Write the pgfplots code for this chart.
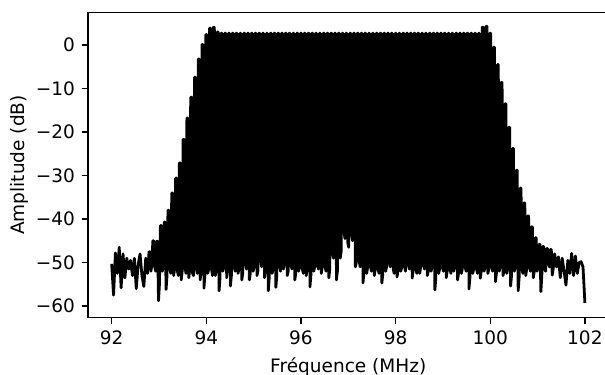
\documentclass[border=0pt]{standalone}
\usepackage{fontspec}
\setmainfont{DejaVu Sans}
\usepackage{pgfplots}
\pgfplotsset{compat=1.18}
\begin{document}
\begin{tikzpicture}
\begin{axis}[
  width=281.1pt, height=164.7pt, scale only axis,
  xmin=91.5, xmax=102.5, ymin=-62.64, ymax=7.47,
  xtick={92,94,96,98,100,102},
  xticklabels={92,94,96,98,100,102},
  ytick={-60,-50,-40,-30,-20,-10,0},
  yticklabels={−60,−50,−40,−30,−20,−10,0},
  tick pos=left, tick align=outside,
  major tick length=3.5pt,
  every tick/.style={black, line width=0.8pt},
  axis line style={black, line width=0.8pt},
  xlabel={Fréquence (MHz)},
  ylabel={Amplitude (dB)},
  ylabel shift=-3pt,
]
\addplot[black, line width=1.5pt, line join=round, mark=none] coordinates {
(92.00,-50.3) (92.04,-57.5) (92.08,-47.8) (92.12,-52.5) (92.16,-46.5) (92.20,-55.8) (92.24,-48.0) (92.28,-53.5)
(92.32,-49.0) (92.36,-51.5) (92.40,-49.5) (92.44,-53.0) (92.48,-49.0) (92.52,-56.0) (92.56,-50.5) (92.60,-48.0)
(92.64,-53.0) (92.68,-55.5) (92.72,-49.0) (92.76,-52.5)
(92.79,-47.5) (92.81,-47.5) (92.83,-52.0) (92.85,-50.5)
(92.87,-45.0) (92.89,-45.0) (92.91,-51.0) (92.93,-52.0)
(92.95,-45.1) (92.97,-45.1) (92.99,-58.8) (93.01,-55.0)
(93.03,-41.5) (93.05,-41.5) (93.07,-52.0) (93.09,-51.0)
(93.11,-40.7) (93.13,-40.7) (93.15,-56.2) (93.17,-53.0)
(93.19,-38.0) (93.21,-38.0) (93.23,-51.5) (93.25,-52.5)
(93.27,-34.0) (93.29,-34.0) (93.31,-53.0) (93.33,-51.5)
(93.35,-30.6) (93.37,-30.6) (93.39,-52.0) (93.41,-53.0)
(93.43,-27.1) (93.45,-27.1) (93.47,-54.0) (93.49,-52.0)
(93.51,-21.7) (93.53,-21.7) (93.55,-51.0) (93.57,-52.5)
(93.59,-16.8) (93.61,-16.8) (93.63,-53.5) (93.65,-51.5)
(93.67,-12.0) (93.69,-12.0) (93.71,-52.5) (93.73,-53.0)
(93.75,-7.4) (93.77,-7.4) (93.79,-51.5) (93.81,-52.5)
(93.83,-3.2) (93.85,-3.2) (93.87,-54.0) (93.89,-52.0)
(93.91,0.1) (93.93,0.1) (93.95,-55.9) (93.97,-53.0)
(93.99,2.4) (94.01,2.4) (94.03,-52.5) (94.05,-51.5)
(94.07,3.9) (94.09,3.9) (94.11,-51.5) (94.13,-53.0)
(94.15,4.1) (94.17,4.1) (94.19,-53.0) (94.21,-52.0)
(94.23,3.0) (94.25,3.0) (94.27,-56.5) (94.29,-53.5)
(94.31,2.7) (94.33,2.7) (94.35,-52.0) (94.37,-51.0)
(94.39,2.7) (94.41,2.7) (94.43,-53.5) (94.45,-52.0)
(94.47,2.7) (94.49,2.7) (94.51,-55.4) (94.53,-53.0)
(94.55,2.7) (94.57,2.7) (94.59,-51.0) (94.61,-52.0)
(94.63,2.7) (94.65,2.7) (94.67,-52.5) (94.69,-51.5)
(94.71,2.7) (94.73,2.7) (94.75,-54.0) (94.77,-52.5)
(94.79,2.7) (94.81,2.7) (94.83,-50.5) (94.85,-51.5)
(94.87,2.7) (94.89,2.7) (94.91,-54.0) (94.93,-52.5)
(94.95,2.7) (94.97,2.7) (94.99,-52.0) (95.01,-51.0)
(95.03,2.7) (95.05,2.7) (95.07,-53.0) (95.09,-52.0)
(95.11,2.7) (95.13,2.7) (95.15,-49.4) (95.17,-51.0)
(95.19,2.7) (95.21,2.7) (95.23,-53.5) (95.25,-52.0)
(95.27,2.7) (95.29,2.7) (95.31,-56.5) (95.33,-53.5)
(95.35,2.7) (95.37,2.7) (95.39,-52.5) (95.41,-51.5)
(95.43,2.7) (95.45,2.7) (95.47,-55.7) (95.49,-53.0)
(95.51,2.7) (95.53,2.7) (95.55,-51.0) (95.57,-52.0)
(95.59,2.7) (95.61,2.7) (95.63,-51.5) (95.65,-50.5)
(95.67,2.7) (95.69,2.7) (95.71,-53.0) (95.73,-52.0)
(95.75,2.7) (95.77,2.7) (95.79,-50.5) (95.81,-51.5)
(95.83,2.7) (95.85,2.7) (95.87,-54.0) (95.89,-52.5)
(95.91,2.7) (95.93,2.7) (95.95,-52.0) (95.97,-51.0)
(95.99,2.7) (96.01,2.7) (96.03,-51.5) (96.05,-52.5)
(96.07,2.7) (96.09,2.7) (96.11,-53.0) (96.13,-51.5)
(96.15,2.7) (96.17,2.7) (96.19,-55.6) (96.21,-53.0)
(96.23,2.7) (96.25,2.7) (96.27,-52.0) (96.29,-51.0)
(96.31,2.7) (96.33,2.7) (96.35,-50.6) (96.37,-51.5)
(96.39,2.7) (96.41,2.7) (96.43,-52.5) (96.45,-51.0)
(96.47,2.7) (96.49,2.7) (96.51,-51.0) (96.53,-52.0)
(96.55,2.7) (96.57,2.7) (96.59,-53.5) (96.61,-51.5)
(96.63,2.7) (96.65,2.7) (96.67,-47.8) (96.69,-49.0)
(96.71,2.7) (96.73,2.7) (96.75,-54.0) (96.77,-52.0)
(96.79,2.7) (96.81,2.7) (96.83,-49.0) (96.85,-47.5)
(96.87,2.7) (96.89,2.7) (96.91,-43.0) (96.93,-44.5)
(96.95,2.7) (96.97,2.7) (96.99,-45.5) (97.01,-46.5)
(97.03,2.7) (97.05,2.7) (97.07,-43.5) (97.09,-45.0)
(97.11,2.7) (97.13,2.7) (97.15,-51.0) (97.17,-50.0)
(97.19,2.7) (97.21,2.7) (97.23,-49.5) (97.25,-51.0)
(97.27,2.7) (97.29,2.7) (97.31,-54.7) (97.33,-52.5)
(97.35,2.7) (97.37,2.7) (97.39,-52.5) (97.41,-51.0)
(97.43,2.7) (97.45,2.7) (97.47,-51.0) (97.49,-52.0)
(97.51,2.7) (97.53,2.7) (97.55,-53.0) (97.57,-51.5)
(97.59,2.7) (97.61,2.7) (97.63,-51.5) (97.65,-52.5)
(97.67,2.7) (97.69,2.7) (97.71,-54.7) (97.73,-52.5)
(97.75,2.7) (97.77,2.7) (97.79,-52.0) (97.81,-51.0)
(97.83,2.7) (97.85,2.7) (97.87,-50.0) (97.89,-51.0)
(97.91,2.7) (97.93,2.7) (97.95,-51.5) (97.97,-52.5)
(97.99,2.7) (98.01,2.7) (98.03,-53.3) (98.05,-52.0)
(98.07,2.7) (98.09,2.7) (98.11,-52.0) (98.13,-51.0)
(98.15,2.7) (98.17,2.7) (98.19,-51.0) (98.21,-52.0)
(98.23,2.7) (98.25,2.7) (98.27,-50.6) (98.29,-51.5)
(98.31,2.7) (98.33,2.7) (98.35,-53.6) (98.37,-52.0)
(98.39,2.7) (98.41,2.7) (98.43,-51.5) (98.45,-52.5)
(98.47,2.7) (98.49,2.7) (98.51,-52.5) (98.53,-51.0)
(98.55,2.7) (98.57,2.7) (98.59,-50.5) (98.61,-51.5)
(98.63,2.7) (98.65,2.7) (98.67,-53.0) (98.69,-52.0)
(98.71,2.7) (98.73,2.7) (98.75,-52.0) (98.77,-51.0)
(98.79,2.7) (98.81,2.7) (98.83,-56.3) (98.85,-53.5)
(98.87,2.7) (98.89,2.7) (98.91,-52.5) (98.93,-51.5)
(98.95,2.7) (98.97,2.7) (98.99,-51.0) (99.01,-52.0)
(99.03,2.7) (99.05,2.7) (99.07,-53.5) (99.09,-52.0)
(99.11,2.7) (99.13,2.7) (99.15,-51.5) (99.17,-52.5)
(99.19,2.7) (99.21,2.7) (99.23,-52.0) (99.25,-51.0)
(99.27,2.7) (99.29,2.7) (99.31,-54.0) (99.33,-52.5)
(99.35,2.7) (99.37,2.7) (99.39,-52.5) (99.41,-51.5)
(99.43,2.7) (99.45,2.7) (99.47,-51.0) (99.49,-52.0)
(99.51,2.7) (99.53,2.7) (99.55,-56.1) (99.57,-53.5)
(99.59,2.7) (99.61,2.7) (99.63,-52.5) (99.65,-51.5)
(99.67,2.7) (99.69,2.7) (99.71,-51.5) (99.73,-52.5)
(99.75,2.7) (99.77,2.7) (99.79,-53.6) (99.81,-52.0)
(99.83,4.1) (99.85,4.1) (99.87,-52.0) (99.89,-51.0)
(99.91,4.3) (99.93,4.3) (99.95,-52.5) (99.97,-51.5)
(99.99,2.7) (100.01,2.7) (100.03,-51.0) (100.05,-52.0)
(100.07,-0.5) (100.09,-0.5) (100.11,-54.4) (100.13,-52.5)
(100.15,-4.5) (100.17,-4.5) (100.19,-52.0) (100.21,-51.0)
(100.23,-8.6) (100.25,-8.6) (100.27,-53.0) (100.29,-52.0)
(100.31,-13.5) (100.33,-13.5) (100.35,-52.5) (100.37,-51.5)
(100.39,-18.9) (100.41,-18.9) (100.43,-55.4) (100.45,-53.0)
(100.47,-23.8) (100.49,-23.8) (100.51,-52.0) (100.53,-51.0)
(100.55,-28.8) (100.57,-28.8) (100.59,-56.5) (100.61,-53.5)
(100.63,-32.9) (100.65,-32.9) (100.67,-51.5) (100.69,-52.5)
(100.71,-36.3) (100.73,-36.3) (100.75,-53.0) (100.77,-51.5)
(100.79,-39.3) (100.81,-39.3) (100.83,-51.0) (100.85,-52.0)
(100.87,-41.8) (100.89,-41.8) (100.91,-53.5) (100.93,-52.0)
(100.95,-44.3) (100.97,-44.3) (100.99,-52.0) (101.01,-51.0)
(101.03,-45.8) (101.05,-45.8) (101.07,-56.7) (101.09,-53.0)
(101.11,-46.3) (101.13,-46.3) (101.15,-51.5) (101.17,-52.0)
(101.19,-46.8) (101.21,-46.8) (101.23,-50.0) (101.25,-51.0)
(101.27,-47.0) (101.29,-47.0) (101.31,-52.9) (101.33,-51.5)
(101.36,-48.0) (101.40,-51.0) (101.44,-48.7) (101.48,-53.5) (101.52,-49.0) (101.56,-52.0)
(101.60,-55.2) (101.64,-49.5) (101.68,-52.5) (101.72,-47.9) (101.76,-53.0) (101.80,-48.5) (101.84,-52.5) (101.88,-50.0)
(101.92,-49.8) (101.96,-51.0) (102.00,-59.3)
};
\end{axis}
\pgfresetboundingbox
\useasboundingbox (-47.52pt,-30.51pt) rectangle (279.18pt,171.45pt);
\end{tikzpicture}
\end{document}
